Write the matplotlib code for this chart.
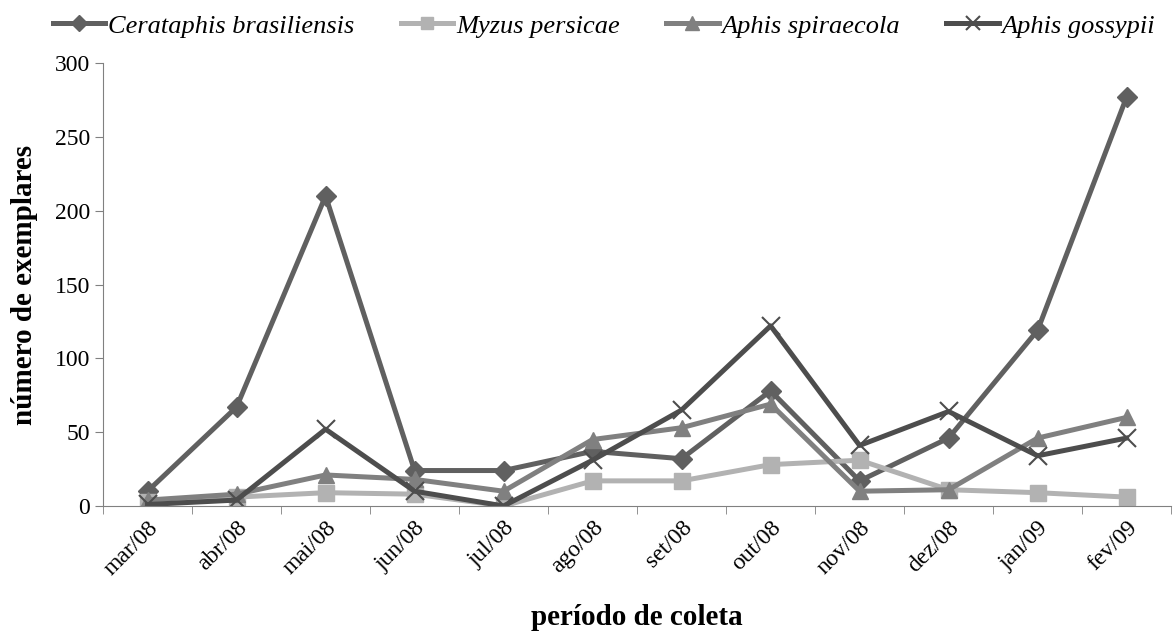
# aphid counts per month
import matplotlib.pyplot as plt
import numpy as np

months = ['mar/08', 'abr/08', 'mai/08', 'jun/08', 'jul/08', 'ago/08',
          'set/08', 'out/08', 'nov/08', 'dez/08', 'jan/09', 'fev/09']
cerataphis = [10, 67, 210, 24, 24, 37, 32, 78, 17, 46, 119, 277]
myzus = [3, 6, 9, 8, 0, 17, 17, 28, 31, 11, 9, 6]
spiraecola = [4, 8, 21, 18, 10, 45, 53, 69, 10, 11, 46, 60]
gossypii = [1, 4, 52, 10, 0, 31, 65, 122, 41, 64, 34, 46]

plt.rcParams['font.family'] = ['Liberation Serif', 'DejaVu Serif']

fig = plt.figure(figsize=(11.75, 6.37), dpi=100)
ax = fig.add_axes([0.0877, 0.2057, 0.909, 0.6953])

x = np.arange(len(months))
lw = 3.6
ax.plot(x, cerataphis, color='#606060', lw=lw, marker='D', ms=10, label='Cerataphis brasiliensis')
ax.plot(x, myzus, color='#b2b2b2', lw=lw, marker='s', ms=11, label='Myzus persicae')
ax.plot(x, spiraecola, color='#808080', lw=lw, marker='^', ms=12, label='Aphis spiraecola')
ax.plot(x, gossypii, color='#4d4d4d', lw=lw, marker='x', ms=13, mew=1.5, label='Aphis gossypii')

ax.set_xlim(-0.5, len(months) - 0.5)
ax.set_ylim(0, 300)
ax.set_yticks(range(0, 301, 50))

ax.set_xticks(x)
ax.set_xticklabels(months, rotation=45, ha='right', rotation_mode='anchor')
ax.set_xticks(np.arange(-0.5, len(months)), minor=True)
ax.tick_params(axis='x', which='major', length=0, pad=8)
ax.tick_params(axis='x', which='minor', length=6, color='#808080')
ax.tick_params(axis='y', length=6, color='#808080')
ax.tick_params(labelsize=17)

for s in ['top', 'right']:
    ax.spines[s].set_visible(False)
for s in ['left', 'bottom']:
    ax.spines[s].set_color('#808080')

ax.set_xlabel('período de coleta', fontsize=21, fontweight='bold', labelpad=18)
ax.set_ylabel('número de exemplares', fontsize=21, fontweight='bold', labelpad=12)

leg = fig.legend(loc='upper center', bbox_to_anchor=(0.514, 1.015), ncol=4, frameon=False,
                 prop={'style': 'italic', 'size': 19}, handlelength=2.0, handletextpad=0.1,
                 columnspacing=1.75, markerscale=0.8)

plt.savefig('out.png', dpi=100)
